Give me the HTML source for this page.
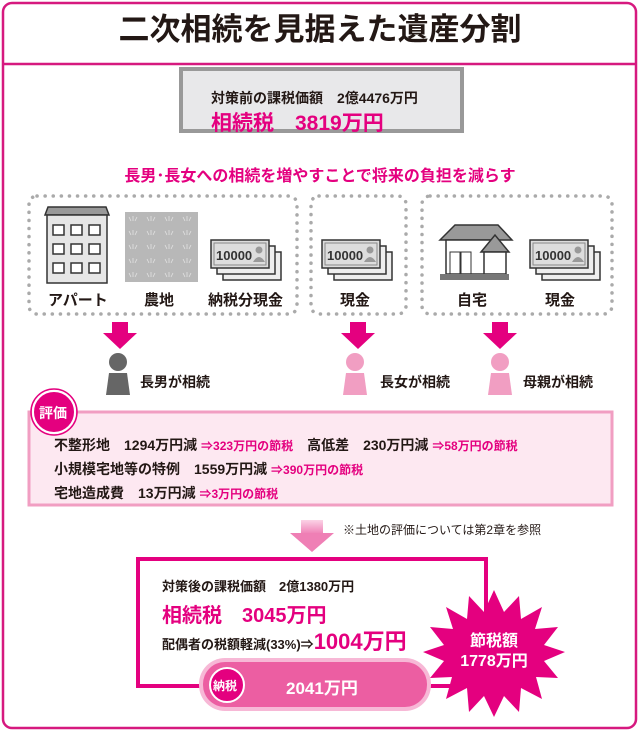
<!DOCTYPE html>
<html><head><meta charset="utf-8"><style>
body{margin:0;width:640px;height:733px;background:#fff;position:relative;overflow:hidden;font-family:"Liberation Sans","Noto Sans CJK JP",sans-serif;font-weight:bold;color:#231815}
.a{position:absolute;white-space:nowrap}
.pk{color:#e4007f}
</style></head><body>
<svg class="a" style="left:0;top:0" width="640" height="733">
<defs>
<g id="money">
<rect x="12" y="12" width="58" height="28" fill="#eee" stroke="#333" stroke-width="1.5"/>
<rect x="6" y="6" width="58" height="28" fill="#eee" stroke="#333" stroke-width="1.5"/>
<rect x="0" y="0" width="58" height="28" fill="#ddd" stroke="#333" stroke-width="1.5"/>
<rect x="3" y="3" width="52" height="22" fill="#ddd" stroke="#888" stroke-width="1"/>
<text x="5" y="20" font-size="13" font-weight="bold" fill="#333" font-family="Liberation Sans">10000</text>
<circle cx="48" cy="10" r="3.5" fill="#999"/><path d="M42 22 Q48 12 54 22Z" fill="#999"/>
</g>
<g id="arr"><rect x="-8" y="0" width="16" height="11" fill="#e4007f"/><path d="M-17 11 L17 11 L0 27Z" fill="#e4007f"/></g>
<g id="per"><circle cx="0" cy="9" r="9"/><path d="M-12 42 L-9 20 L9 20 L12 42Z"/></g>
<linearGradient id="gd" x1="0" y1="0" x2="0" y2="1"><stop offset="0" stop-color="#fbd3e6"/><stop offset="1" stop-color="#ef7fb5"/></linearGradient>
<pattern id="grass" x="125" y="212" width="18" height="14" patternUnits="userSpaceOnUse"><path d="M6 9 L4 5 M8 9 L8 4 M10 9 L12 5" stroke="#e2e2e2" stroke-width="0.8" fill="none"/></pattern>
</defs>
<rect x="3" y="3" width="633" height="725" rx="9" fill="none" stroke="#d6197f" stroke-width="2.5"/>
<line x1="3" y1="64" x2="636" y2="64" stroke="#d6197f" stroke-width="2.5"/>
<rect x="181" y="69" width="281" height="62" fill="#e8e8ea" stroke="#999" stroke-width="4"/>
<g fill="none" stroke="#aaa" stroke-width="3.5" stroke-dasharray="0.1 8" stroke-linecap="round">
<rect x="29" y="196" width="268" height="118" rx="8"/>
<rect x="311" y="196" width="95" height="118" rx="8"/>
<rect x="422" y="196" width="190" height="118" rx="8"/>
</g>
<path d="M45 215 L48 207 L106 207 L109 215Z" fill="#999" stroke="#333" stroke-width="1.5"/>
<rect x="47" y="215" width="60" height="68" fill="#e6e6e6" stroke="#333" stroke-width="1.5"/>
<g fill="#fff" stroke="#333" stroke-width="1.5">
<rect x="53" y="225" width="11" height="10"/><rect x="71" y="225" width="11" height="10"/><rect x="89" y="225" width="11" height="10"/>
<rect x="53" y="244" width="11" height="10"/><rect x="71" y="244" width="11" height="10"/><rect x="89" y="244" width="11" height="10"/>
<rect x="53" y="263" width="11" height="10"/><rect x="71" y="263" width="11" height="10"/><rect x="89" y="263" width="11" height="10"/>
</g>
<rect x="125" y="212" width="73" height="70" fill="#b8b8b8"/>
<rect x="125" y="212" width="73" height="70" fill="url(#grass)"/>
<use href="#money" x="211" y="240"/>
<use href="#money" x="322" y="240"/>
<use href="#money" x="530" y="240"/>
<path d="M440 240 L455 225 L498 225 L512 240Z" fill="#999" stroke="#333" stroke-width="1.5"/>
<rect x="446" y="240" width="50" height="34" fill="#fff" stroke="#333" stroke-width="1.5"/>
<path d="M481 252 L495 235 L509 252Z" fill="#999" stroke="#333" stroke-width="1.5"/>
<rect x="484" y="252" width="22" height="22" fill="#fff" stroke="#333" stroke-width="1.5"/>
<rect x="450" y="252" width="10" height="22" fill="none" stroke="#333"/><rect x="461" y="252" width="10" height="22" fill="none" stroke="#333"/>
<rect x="440" y="274" width="69" height="6" fill="#777"/>
<use href="#arr" x="120" y="322"/><use href="#arr" x="358" y="322"/><use href="#arr" x="500" y="322"/>
<use href="#per" x="118" y="353" fill="#666"/><use href="#per" x="355" y="353" fill="#f19ec2"/><use href="#per" x="500" y="353" fill="#f19ec2"/>
<rect x="29" y="412" width="583" height="93" fill="#fde8f1" stroke="#f19ec2" stroke-width="3"/>
<circle cx="54" cy="412" r="21" fill="#e4007f" stroke="#fff" stroke-width="2"/>
<circle cx="54" cy="412" r="23" fill="none" stroke="#e4007f" stroke-width="1.5"/>
<rect x="301" y="520" width="22" height="14" fill="url(#gd)"/><path d="M290 533 L334 533 L312 552Z" fill="#ef7fb5"/>
<rect x="138" y="559" width="348" height="127" fill="#fff" stroke="#e4007f" stroke-width="4"/>
<rect x="199" y="658" width="232" height="53" rx="26" fill="#f7b8d6"/>
<rect x="203" y="662" width="224" height="45" rx="22" fill="#ec5ea2"/>
<circle cx="227" cy="685" r="17" fill="#e4007f" stroke="#fff" stroke-width="2"/>
<g transform="translate(-3,2)">
<polygon fill="#e4007f" points="497,588 507,610 522,594 524,617 545,605 538,627 561,625 547,643 568,650 547,659 561,676 539,675 545,697 524,686 522,710 507,694 497,715 487,694 472,710 470,686 449,697 455,675 433,676 447,659 426,650 447,643 433,625 456,627 449,605 470,617 472,594 487,610"/>
</g>
</svg>
<div class="a" style="left:0;width:640px;text-align:center;top:10px;font-size:31px;line-height:40px">二次相続を見据えた遺産分割</div>
<div class="a" style="left:211px;top:88px;font-size:14px">対策前の課税価額　2億4476万円</div>
<div class="a pk" style="left:211px;top:107px;font-size:21px">相続税　3819万円</div>
<div class="a pk" style="left:0;width:640px;text-align:center;top:162px;font-size:16px">長男･長女への相続を増やすことで将来の負担を減らす</div>
<div class="a" style="left:48px;top:289px;font-size:15px">アパート</div>
<div class="a" style="left:144px;top:289px;font-size:15px">農地</div>
<div class="a" style="left:208px;top:289px;font-size:15px">納税分現金</div>
<div class="a" style="left:340px;top:289px;font-size:15px">現金</div>
<div class="a" style="left:457px;top:289px;font-size:15px">自宅</div>
<div class="a" style="left:545px;top:289px;font-size:15px">現金</div>
<div class="a" style="left:140px;top:372px;font-size:14px">長男が相続</div>
<div class="a" style="left:380px;top:372px;font-size:14px">長女が相続</div>
<div class="a" style="left:523px;top:372px;font-size:14px">母親が相続</div>
<div class="a" style="left:39px;top:403px;font-size:14px;color:#fff">評価</div>
<div class="a" style="left:54px;top:435px;font-size:14px">不整形地　1294万円減 <span class="pk" style="font-size:12px">⇒323万円の節税</span>　高低差　230万円減 <span class="pk" style="font-size:12px">⇒58万円の節税</span></div>
<div class="a" style="left:54px;top:459px;font-size:14px">小規模宅地等の特例　1559万円減 <span class="pk" style="font-size:12px">⇒390万円の節税</span></div>
<div class="a" style="left:54px;top:483px;font-size:14px">宅地造成費　13万円減 <span class="pk" style="font-size:12px">⇒3万円の節税</span></div>
<div class="a" style="left:343px;top:521px;font-size:12px;font-weight:normal">※土地の評価については第2章を参照</div>
<div class="a" style="left:162px;top:576px;font-size:13px">対策後の課税価額　2億1380万円</div>
<div class="a pk" style="left:162px;top:599px;font-size:20px">相続税　3045万円</div>
<div class="a" style="left:162px;top:624px;font-size:13px">配偶者の税額軽減(33%)⇒<span class="pk" style="font-size:22px">1004万円</span></div>
<div class="a" style="left:213px;top:677px;font-size:12px;color:#fff">納税</div>
<div class="a" style="left:286px;top:674px;font-size:17px;color:#fff">2041万円</div>
<div class="a" style="left:444px;top:632px;width:100px;text-align:center;font-size:16px;line-height:20px;color:#fff">節税額<br>1778万円</div>
</body></html>
